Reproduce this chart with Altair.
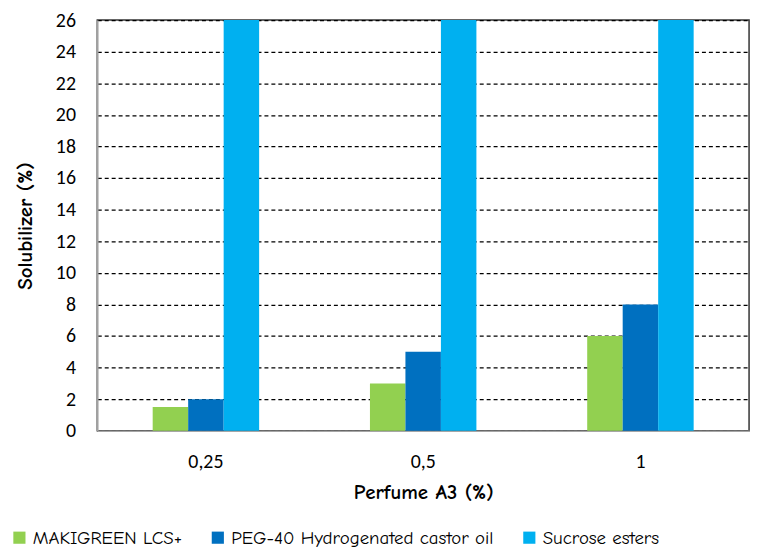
import altair as alt
import pandas as pd

perfume = ["0,25", "0,5", "1"]
series = ["MAKIGREEN LCS+", "PEG-40 Hydrogenated castor oil", "Sucrose esters"]
makigreen = [1.5, 3, 6]
peg40 = [2, 5, 8]
sucrose = [26, 26, 26]
colors = ["#92D050", "#0070C0", "#00B0F0"]

rows = []
for i, p in enumerate(perfume):
    for s, vals in zip(series, [makigreen, peg40, sucrose]):
        rows.append({"Perfume": p, "Series": s, "Value": vals[i]})
df = pd.DataFrame(rows)

title_font = "Comic Sans MS, Comic Neue, DejaVu Sans"
tick_font = "Carlito, Lato, Open Sans"

chart = alt.Chart(df).mark_bar().encode(
    x=alt.X("Perfume:N", sort=perfume,
            scale=alt.Scale(paddingInner=0.51, paddingOuter=0.255),
            axis=alt.Axis(title="Perfume A3 (%)", labelAngle=0, ticks=False,
                          labelPadding=21, titlePadding=10, domainColor="#a6a6a6",
                          domainWidth=1.5, labelFont=tick_font, labelFontSize=20,
                          labelColor="#000", titleFont=title_font, titleFontSize=21,
                          titleFontWeight="bold", titleColor="#000")),
    xOffset=alt.XOffset("Series:N", sort=series),
    y=alt.Y("Value:Q", scale=alt.Scale(domain=[0, 26], nice=False),
            axis=alt.Axis(title="Solubilizer (%)", values=list(range(0, 27, 2)),
                          ticks=False, labelPadding=22, titlePadding=20,
                          domainColor="#a6a6a6", domainWidth=1.5,
                          gridColor="#000", gridDash=[4, 3], gridWidth=1.2,
                          labelFont=tick_font, labelFontSize=20, labelColor="#000",
                          titleFont=title_font, titleFontSize=21,
                          titleFontWeight="bold", titleColor="#000")),
    color=alt.Color("Series:N", sort=series,
                    scale=alt.Scale(domain=series, range=colors),
                    legend=alt.Legend(title=None, orient="none", direction="horizontal",
                                      legendX=-88, legendY=512,
                                      symbolType="square", symbolSize=150,
                                      symbolStrokeWidth=0, labelFont=title_font,
                                      labelFontSize=19, labelColor="#000",
                                      columnPadding=26, labelLimit=400)),
).properties(
    width=657, height=414,
    padding={"left": 90, "top": 10, "right": 8, "bottom": 120},
    autosize=alt.AutoSizeParams(type="none"),
).configure_view(stroke="#333", strokeWidth=1.5)

chart.save("out.html", embed_options={"renderer": "svg", "actions": False})
